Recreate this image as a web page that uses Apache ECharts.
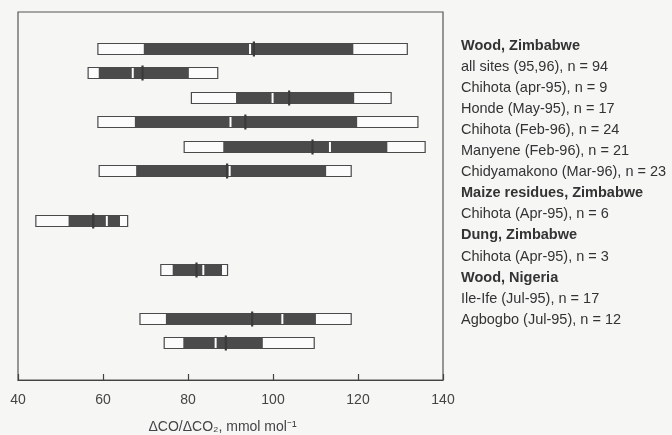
<!DOCTYPE html>
<html>
<head>
<meta charset="utf-8">
<script src="https://cdn.jsdelivr.net/npm/echarts@6/dist/echarts.min.js"></script>
<style>
    html, body { margin: 0; padding: 0; background: #f6f6f5; }
    #main { width: 672px; height: 435px; }
</style>
</head>
<body>
<div id="main"></div>
<script>
    // row slots on the hidden y axis (blank ones are gaps between groups)
    const rowSlots = ['', 'r1', 'r2', 'r3', 'r4', 'r5', 'r6', '', 'r7', '', 'r8', '', 'r9', 'r10', ''];
    const rowIds = ['r1', 'r2', 'r3', 'r4', 'r5', 'r6', 'r7', 'r8', 'r9', 'r10'];
    // min, lower bound of dark bar, upper bound of dark bar, max
    const minVals = [58.8, 56.5, 80.8, 58.8, 79.1, 59.1, 44.2, 73.6, 68.7, 74.4];
    const lowVals = [69.6, 59.0, 91.3, 67.5, 88.3, 67.8, 51.9, 76.4, 74.8, 78.9];
    const highVals = [118.9, 80.2, 119.1, 119.8, 126.9, 112.5, 64.0, 88.0, 110.1, 97.6];
    const maxVals = [131.6, 87.0, 127.8, 134.1, 135.8, 118.4, 65.8, 89.3, 118.4, 109.7];
    // white gap marker and dark tick marker
    const whiteMark = [94.6, 67.0, 99.9, 90.0, 113.4, 89.8, 60.9, 83.6, 102.2, 86.5];
    const darkMark = [95.5, 69.3, 103.8, 93.5, 109.3, 89.2, 57.7, 82.0, 95.1, 88.9];
    const xTicks = [40, 60, 80, 100, 120, 140];

    const legendLines = [
        ['Wood, Zimbabwe', true],
        ['all sites (95,96), n = 94', false],
        ['Chihota (apr-95), n = 9', false],
        ['Honde (May-95), n = 17', false],
        ['Chihota (Feb-96), n = 24', false],
        ['Manyene (Feb-96), n = 21', false],
        ['Chidyamakono (Mar-96), n = 23', false],
        ['Maize residues, Zimbabwe', true],
        ['Chihota (Apr-95), n = 6', false],
        ['Dung, Zimbabwe', true],
        ['Chihota (Apr-95), n = 3', false],
        ['Wood, Nigeria', true],
        ['Ile-Ife (Jul-95), n = 17', false],
        ['Agbogbo (Jul-95), n = 12', false]
    ];

    const data = rowIds.map((id, i) => [id, minVals[i], lowVals[i], highVals[i], maxVals[i], whiteMark[i], darkMark[i]]);

    function renderItem(params, api) {
        const y = api.value(0);
        const pMin = api.coord([api.value(1), y]);
        const pLow = api.coord([api.value(2), y]);
        const pHigh = api.coord([api.value(3), y]);
        const pMax = api.coord([api.value(4), y]);
        const pWhite = api.coord([api.value(5), y]);
        const pDark = api.coord([api.value(6), y]);
        const cy = Math.round(pMin[1]);
        return {
            type: 'group',
            children: [
                {
                    type: 'rect',
                    shape: { x: pMin[0], y: cy - 5.5, width: pMax[0] - pMin[0], height: 11 },
                    style: { fill: '#fbfbfb', stroke: '#4a4a4a', lineWidth: 1.2 }
                },
                {
                    type: 'rect',
                    shape: { x: pLow[0], y: cy - 5, width: pHigh[0] - pLow[0], height: 10 },
                    style: { fill: '#4b4b4b' }
                },
                {
                    type: 'line',
                    shape: { x1: pDark[0], y1: cy - 7.5, x2: pDark[0], y2: cy + 7.5 },
                    style: { stroke: '#3a3a3a', lineWidth: 2.2 }
                },
                {
                    type: 'line',
                    shape: { x1: pWhite[0], y1: cy - 5, x2: pWhite[0], y2: cy + 5 },
                    style: { stroke: '#ffffff', lineWidth: 2 }
                }
            ]
        };
    }

    const chart = echarts.init(document.getElementById('main'));
    chart.setOption({
        backgroundColor: '#f6f6f5',
        animation: false,
        grid: {
            left: 18, right: 229, top: 12, bottom: 55,
            outerBoundsMode: 'none', containLabel: false,
            show: true, borderColor: '#555', borderWidth: 1.2, backgroundColor: 'transparent'
        },
        xAxis: {
            type: 'value',
            min: xTicks[0],
            max: xTicks[xTicks.length - 1],
            interval: 20,
            axisLine: { show: true, lineStyle: { color: '#444', width: 1.2 } },
            axisTick: { show: true, inside: true, length: 6, lineStyle: { color: '#444', width: 1.2 } },
            axisLabel: { color: '#444', fontSize: 14, fontFamily: 'Liberation Sans', margin: 13 },
            splitLine: { show: false },
            name: 'ΔCO/ΔCO₂, mmol mol⁻¹',
            nameLocation: 'middle',
            nameGap: 40,
            nameTextStyle: { color: '#444', fontSize: 14, fontFamily: 'Liberation Sans', padding: [0, 16, 0, 0] }
        },
        yAxis: {
            type: 'category',
            data: rowSlots.map((s, i) => s || ('gap' + i)),
            inverse: true,
            show: false
        },
        graphic: legendLines.map((l, i) => ({
            type: 'text',
            left: 461,
            top: 38 + i * 21.1,
            style: {
                text: l[0],
                fill: '#333',
                font: (l[1] ? 'bold ' : '') + '14.5px "Liberation Sans"'
            }
        })),
        series: [{
            type: 'custom',
            renderItem: renderItem,
            encode: { x: [1, 2, 3, 4, 5, 6], y: 0 },
            data: data
        }]
    });
</script>
</body>
</html>
